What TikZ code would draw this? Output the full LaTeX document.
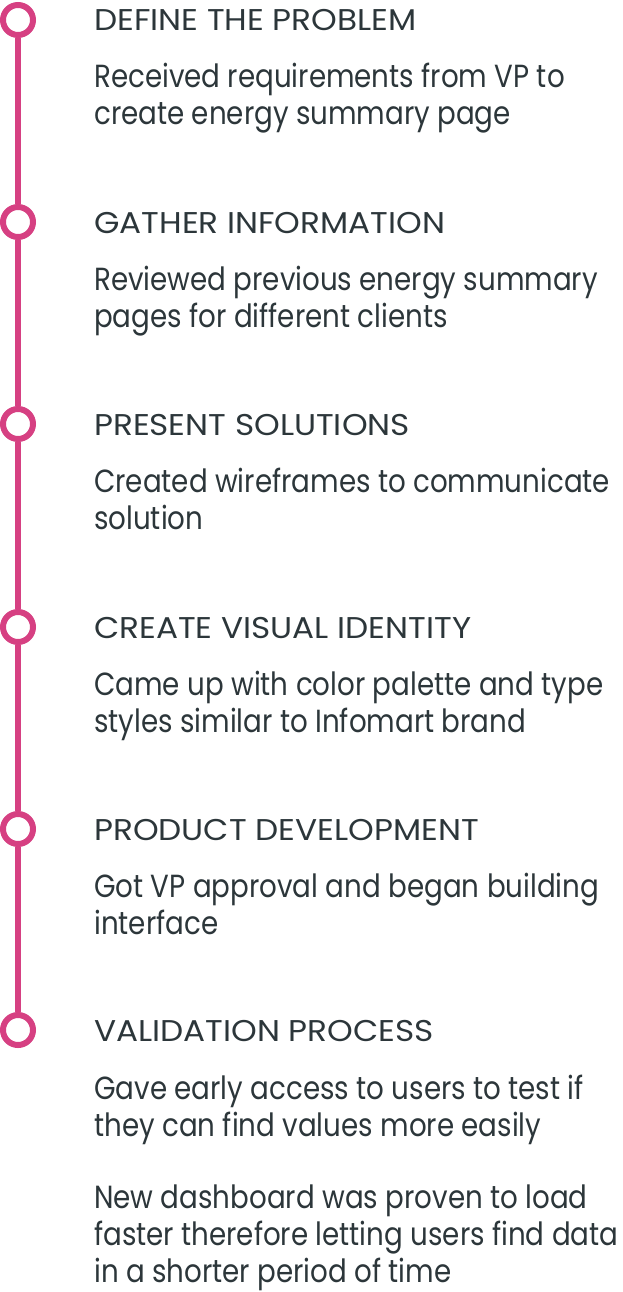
\documentclass[tikz,border=0pt]{standalone}
\usepackage{fontspec}
\setmainfont{Poppins}
\newfontfamily\headfont[FakeStretch=1.09]{Poppins}
\newfontfamily\bodyfont[FakeStretch=0.866]{Poppins}
\definecolor{pink}{RGB}{214,64,130}
\definecolor{ink}{RGB}{44,54,58}
\tikzset{
  x=1pt, y=-1pt,
  dot/.style={circle, draw=pink, line width=6pt, minimum size=30pt, inner sep=0pt},
  rail/.style={draw=pink, line width=6pt},
  head/.style={anchor=base west, inner sep=0pt, text=ink, font=\headfont\fontsize{30}{37}\selectfont},
  % multi-line nodes: the base anchor sits on the last line
  body/.style={anchor=base west, inner sep=0pt, text=ink, align=left, font=\bodyfont\fontsize{32}{37}\selectfont},
}
\begin{document}
\begin{tikzpicture}
\useasboundingbox (0,0) rectangle (623,1292);
% timeline markers
\foreach \i/\y in {1/20,2/222,3/424,4/627,5/829,6/1030}
  \node[dot] (c\i) at (18,\y) {};
\foreach \a/\b in {1/2,2/3,3/4,4/5,5/6}
  \draw[rail] (c\a.south) -- (c\b.north);
% headings
\node[head] (h1) at (94,31) {DEFINE THE PROBLEM};
\node[head] (h2) at (94,233) {GATHER INFORMATION};
\node[head] (h3) at (94,435) {PRESENT SOLUTIONS};
\node[head] (h4) at (94,638) {CREATE VISUAL IDENTITY};
\node[head] (h5) at (94,840) {PRODUCT DEVELOPMENT};
\node[head] (h6) at (94,1041) {VALIDATION PROCESS};
% descriptions
\node[body] (d1) at (94,125) {Received requirements from VP to\\create energy summary page};
\node[body] (d2) at (94,327) {Reviewed previous energy summary\\pages for different clients};
\node[body] (d3) at (94,529) {Created wireframes to communicate\\solution};
\node[body] (d4) at (94,732) {Came up with color palette and type\\styles similar to Infomart brand};
\node[body] (d5) at (94,934) {Got VP approval and began building\\interface};
\node[body] (d6) at (94,1136) {Gave early access to users to test if\\they can find values more easily};
\node[body] (d7) at (94,1282) {New dashboard was proven to load\\faster therefore letting users find data\\in a shorter period of time};
\end{tikzpicture}
\end{document}
